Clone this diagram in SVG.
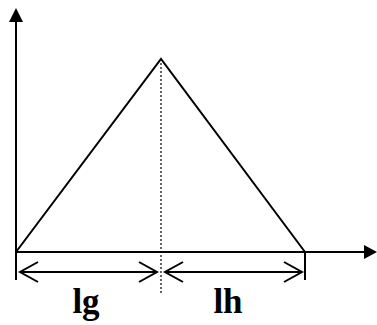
<svg xmlns="http://www.w3.org/2000/svg" width="377" height="325" viewBox="0 0 377 325">
<style>
.ln{stroke:#000;stroke-width:2;fill:none}
.ah{stroke:#000;stroke-width:2;fill:none}
.lbl{font-family:"Liberation Serif",serif;font-weight:bold;font-size:35px;fill:#000}
</style>
<rect width="377" height="325" fill="#fff"/>
<g id="connectors">
<line class="ln" x1="16" y1="280" x2="16" y2="20"/>
<polygon points="16,8 9,22 23,22" fill="#000"/>
<line class="ln" x1="16" y1="252" x2="366" y2="252"/>
<polygon points="377,252 364,245 364,259" fill="#000"/>
<polyline class="ln" points="16,252 161,59 305,252"/>
<line class="ln" x1="305" y1="252" x2="305" y2="280"/>
<line x1="161" y1="59" x2="161" y2="293" stroke="#000" stroke-width="1.2" stroke-dasharray="2,2"/>
<line class="ln" x1="20" y1="272" x2="157" y2="272"/>
<polyline class="ah" points="38,262 20,272 38,282"/>
<polyline class="ah" points="139,262 157,272 139,282"/>
<line class="ln" x1="165" y1="272" x2="302" y2="272"/>
<polyline class="ah" points="183,262 165,272 183,282"/>
<polyline class="ah" points="284,262 302,272 284,282"/>
</g>
<g id="lg"><text class="lbl" x="86" y="313" text-anchor="middle">lg</text></g>
<g id="lh"><text class="lbl" x="228" y="313" text-anchor="middle">lh</text></g>
</svg>
